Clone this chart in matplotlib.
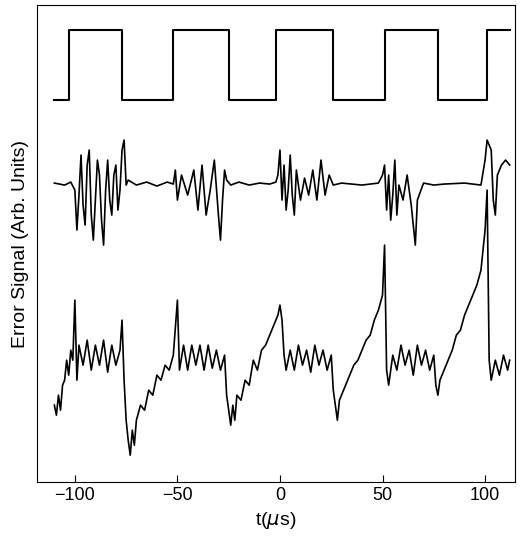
import matplotlib
matplotlib.use("Agg")
import matplotlib.pyplot as plt
import numpy as np

plt.rcParams['font.family'] = ['Liberation Sans', 'DejaVu Sans']

# square wave reference (transition times, levels)
sq_edges = [-103, -77, -52, -25, -2, 26, 51, 77, 101]
sq_low, sq_high = 100, 30
sq_start, sq_end = -110, 112

mid_t = [-110,-105,-102,-100,-99,-98,-97,-96,-95,-94,-93,-92,-91,-90,-89,-88,-87,-86,-85,-84,-83,-82,-81,-80,-79,-78,-77,-76,-75,-74,-70,-65,-60,-55,-52,-51,-50,-48,-45,-42,-40,-38,-36,-34,-32,-30,-29,-28,-27,-26,-24,-20,-15,-10,-5,-2,-1,0,1,2,3,4,5,6,7,8,9,10,12,14,16,18,20,22,24,26,30,40,48,50,51,52,53,54,55,56,57,58,60,62,64,66,67,70,75,80,90,98,100,101,103,104,105,106,108,110,112]
mid_y = [183,185,182,190,230,195,155,205,225,165,150,215,240,200,160,175,220,245,190,160,200,215,175,165,210,190,150,140,185,180,185,182,186,182,184,170,200,175,195,170,210,165,215,190,160,215,240,200,170,180,185,182,185,183,184,182,175,150,200,165,210,190,155,195,215,170,185,200,178,195,170,200,160,195,175,185,183,185,183,175,165,210,175,220,195,160,215,185,200,175,205,245,200,183,185,184,183,185,160,140,150,200,215,175,165,160,165]

bot_t = [-110,-109,-108,-107,-106,-105,-104,-103,-102,-101,-100,-99,-98,-96,-94,-92,-90,-88,-86,-84,-82,-80,-78,-77,-76,-75,-74,-73,-72,-71,-70,-68,-66,-64,-62,-60,-58,-56,-54,-52,-50,-49,-47,-45,-43,-41,-39,-37,-35,-33,-31,-29,-27,-26,-25,-24,-23,-22,-21,-19,-17,-15,-13,-11,-9,-7,-5,-3,-1,0,1,2,3,5,7,9,11,13,15,17,19,21,23,25,26,27,28,29,30,32,34,36,38,40,42,44,46,48,50,51,52,53,55,57,59,61,63,65,67,69,71,73,75,76,77,78,80,82,84,86,88,90,92,94,96,98,100,101,102,103,105,107,109,111,112]
bot_y = [405,415,395,410,385,380,360,375,350,360,300,380,345,365,340,370,345,365,340,372,345,365,350,320,380,420,440,455,430,445,420,405,410,390,395,375,380,365,370,355,300,370,345,370,345,365,345,370,345,368,350,370,355,395,410,425,405,420,395,400,380,385,360,370,350,345,335,325,315,305,320,355,370,350,370,345,365,350,372,345,365,350,370,355,390,405,420,400,395,385,375,365,360,350,340,335,320,310,295,245,370,385,355,370,345,365,350,375,345,365,350,370,355,385,395,380,370,360,350,335,330,315,305,295,285,270,230,190,360,380,360,375,355,370,360]

fig = plt.figure(figsize=(5.2, 5.53), dpi=100)
ax = fig.add_axes([0.071, 0.128, 0.919, 0.863])

# build square wave
xs = [sq_start]; ys = [sq_low]; lvl = sq_low
for e in sq_edges:
    xs += [e, e]; ys += [lvl, sq_high if lvl == sq_low else sq_low]
    lvl = ys[-1]
xs.append(sq_end); ys.append(lvl)
ax.plot(xs, ys, color='black', lw=1.5)
ax.plot(mid_t, mid_y, color='black', lw=1.2)
ax.plot(bot_t, bot_y, color='black', lw=1.2)

ax.set_xlim(-118.5, 114.5)
ax.set_ylim(482, 5)
ax.set_xticks([-100, -50, 0, 50, 100])
ax.set_xticklabels(['\u2212100', '\u221250', '0', '50', '100'])
ax.set_yticks([])
ax.tick_params(axis='x', direction='in', length=5, labelsize=13)
ax.set_xlabel(r't($\mu$s)', fontsize=14)
ax.set_ylabel('Error Signal (Arb. Units)', fontsize=14, labelpad=6)
fig.savefig('out.png', dpi=100)
